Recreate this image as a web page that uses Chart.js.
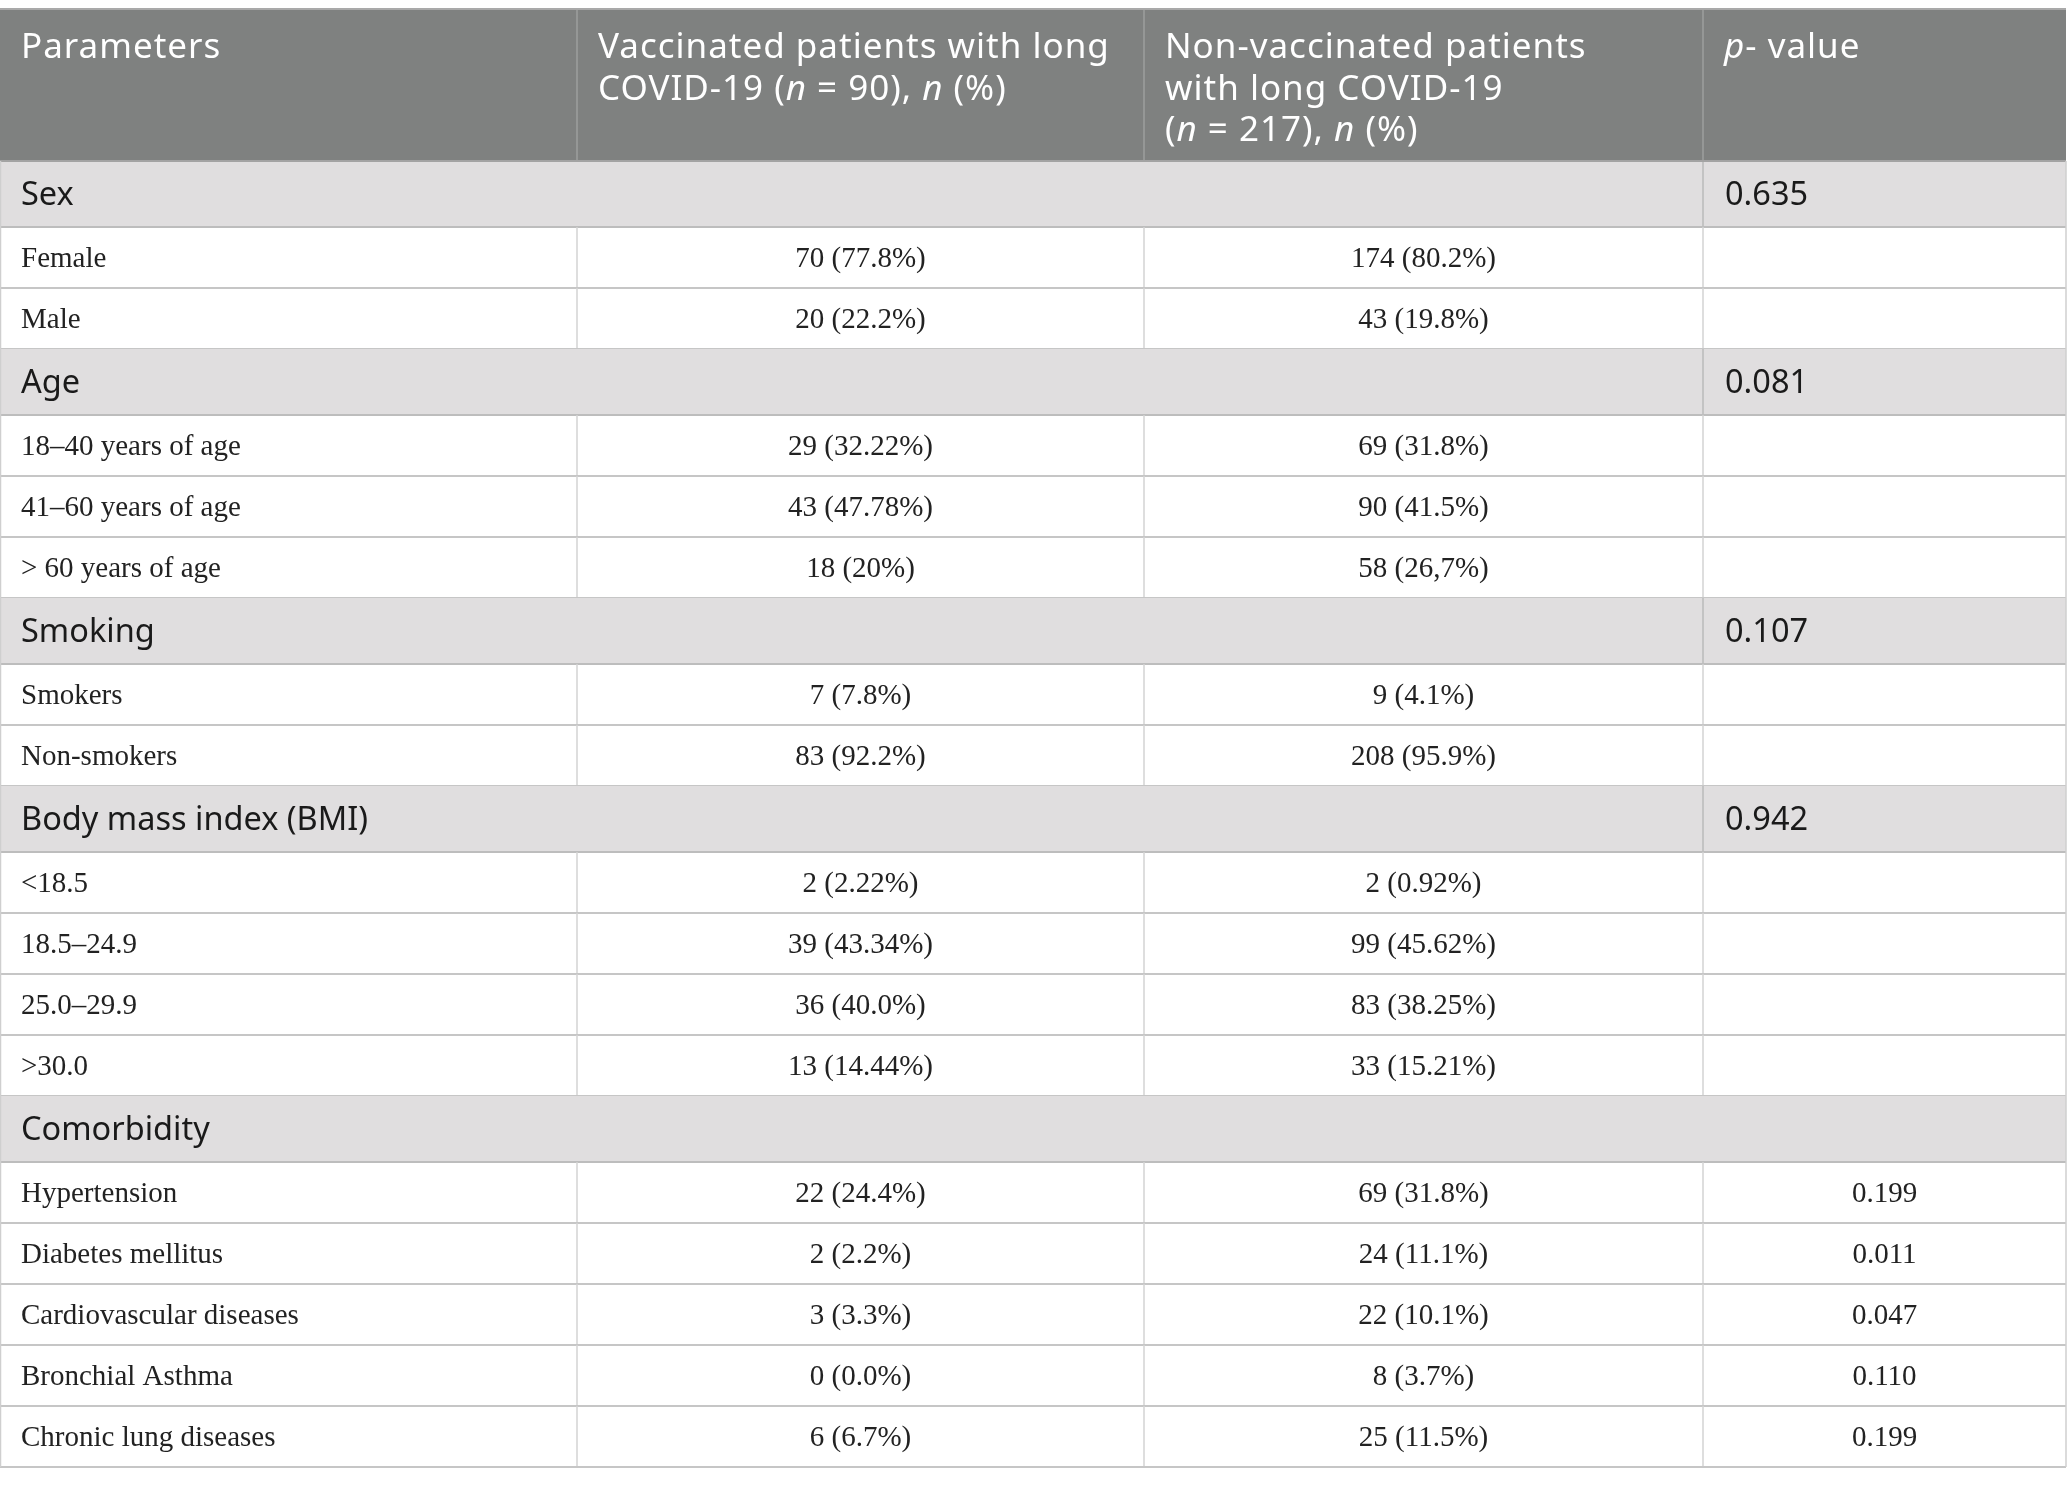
<!DOCTYPE html>
<html>
<head>
<meta charset="utf-8">
<script src="https://cdn.jsdelivr.net/npm/chart.js@4.4.1/dist/chart.umd.min.js"></script>
<style>
html, body { margin: 0; padding: 0; background: #fff; }
#wrap { width: 2067px; height: 1486px; position: relative; }
</style>
</head>
<body>
<div id="wrap"><canvas id="tableChart"></canvas></div>
<script>
// Table data
const headers = [
    ['Parameters'],
    ['Vaccinated patients with long', 'COVID-19 (_n_ = 90), _n_ (%)'],
    ['Non-vaccinated patients', 'with long COVID-19', '(_n_ = 217), _n_ (%)'],
    ['_p_- value']
];
const groups = ['Sex', 'Age', 'Smoking', 'Body mass index (BMI)', 'Comorbidity'];
const groupPValues = ['0.635', '0.081', '0.107', '0.942', ''];
const rowLabels = [
    'Female', 'Male',
    '18–40 years of age', '41–60 years of age', '> 60 years of age',
    'Smokers', 'Non-smokers',
    '<18.5', '18.5–24.9', '25.0–29.9', '>30.0',
    'Hypertension', 'Diabetes mellitus', 'Cardiovascular diseases', 'Bronchial Asthma', 'Chronic lung diseases'
];
const rowGroup = [0, 0, 1, 1, 1, 2, 2, 3, 3, 3, 3, 4, 4, 4, 4, 4];
const vaccinatedN = [70, 20, 29, 43, 18, 7, 83, 2, 39, 36, 13, 22, 2, 3, 0, 6];
const vaccinatedPct = ['77.8', '22.2', '32.22', '47.78', '20', '7.8', '92.2', '2.22', '43.34', '40.0', '14.44', '24.4', '2.2', '3.3', '0.0', '6.7'];
const nonVaccinatedN = [174, 43, 69, 90, 58, 9, 208, 2, 99, 83, 33, 69, 24, 22, 8, 25];
const nonVaccinatedPct = ['80.2', '19.8', '31.8', '41.5', '26,7', '4.1', '95.9', '0.92', '45.62', '38.25', '15.21', '31.8', '11.1', '10.1', '3.7', '11.5'];
const rowPValues = ['', '', '', '', '', '', '', '', '', '', '', '0.199', '0.011', '0.047', '0.110', '0.199'];

// Layout (in canvas units, mapped through the chart scales)
const W = 2067, H = 1486;
const colEdges = [0, 577, 1144, 1703, 2066];
const tableTop = 9, headerH = 152, groupH = 66, rowH = 61;
const padX = 21;

const headerFont = '35px "Noto Sans"';
const headerItalic = 'italic 35px "Noto Sans"';
const groupFont = '32.5px "Noto Sans"';
const cellFont = '29px "Liberation Serif"';

// build row list: group header followed by its rows
function buildRows() {
    const rows = [];
    groups.forEach((g, gi) => {
        rows.push({ type: 'group', label: g, p: groupPValues[gi] });
        rowLabels.forEach((label, i) => {
            if (rowGroup[i] !== gi) return;
            rows.push({
                type: 'data',
                label: label,
                vacc: `${vaccinatedN[i]} (${vaccinatedPct[i]}%)`,
                nonVacc: `${nonVaccinatedN[i]} (${nonVaccinatedPct[i]}%)`,
                p: rowPValues[i]
            });
        });
    });
    return rows;
}
const rows = buildRows();

// text with _italic_ runs
function drawRuns(ctx, str, x, y, align, font, italicFont) {
    const parts = str.split('_');
    let total = 0;
    parts.forEach((p, i) => {
        ctx.font = i % 2 ? italicFont : font;
        total += ctx.measureText(p).width;
    });
    let cx = align === 'center' ? x - total / 2 : x;
    ctx.textAlign = 'left';
    parts.forEach((p, i) => {
        ctx.font = i % 2 ? italicFont : font;
        ctx.fillText(p, cx, y);
        cx += ctx.measureText(p).width;
    });
}

const tablePlugin = {
    id: 'tablePlugin',
    afterDraw(chart) {
        const ctx = chart.ctx;
        const sx = chart.scales.x, sy = chart.scales.y;
        const px = v => sx.getPixelForValue(v);
        const py = v => sy.getPixelForValue(v);

        function hline(y, x0, x1, color, w) {
            ctx.strokeStyle = color;
            ctx.lineWidth = w;
            ctx.beginPath();
            ctx.moveTo(px(x0), py(y));
            ctx.lineTo(px(x1), py(y));
            ctx.stroke();
        }
        function vline(x, y0, y1, color, w) {
            ctx.strokeStyle = color;
            ctx.lineWidth = w;
            ctx.beginPath();
            ctx.moveTo(px(x), py(y0));
            ctx.lineTo(px(x), py(y1));
            ctx.stroke();
        }

        ctx.save();
        const left = colEdges[0], right = colEdges[colEdges.length - 1];

        // header
        ctx.fillStyle = '#7f8180';
        ctx.fillRect(px(left), py(tableTop), px(right) - px(left), py(tableTop + headerH) - py(tableTop));
        for (let c = 1; c < colEdges.length - 1; c++) {
            vline(colEdges[c], tableTop, tableTop + headerH, '#959796', 2);
        }
        hline(tableTop, left, right, '#a9a9a9', 2);

        ctx.fillStyle = '#ffffff';
        ctx.textBaseline = 'alphabetic';
        ctx.letterSpacing = '1px';
        headers.forEach((lines, c) => {
            lines.forEach((line, li) => {
                drawRuns(ctx, line, px(colEdges[c] + padX), py(tableTop + 49 + li * 41.5), 'left', headerFont, headerItalic);
            });
        });
        ctx.letterSpacing = '0px';

        // body
        let top = tableTop + headerH;
        rows.forEach(r => {
            const h = r.type === 'group' ? groupH : rowH;
            const bottom = top + h;
            if (r.type === 'group') {
                ctx.fillStyle = '#e0dedf';
                ctx.fillRect(px(left), py(top), px(right) - px(left), py(bottom) - py(top));
                if (r.p) vline(colEdges[3], top, bottom, '#c3c3c3', 2);
                ctx.fillStyle = '#1a1a1a';
                ctx.font = groupFont;
                ctx.textAlign = 'left';
                const base = py(top + h / 2 + 11);
                ctx.fillText(r.label, px(colEdges[0] + padX), base);
                if (r.p) ctx.fillText(r.p, px(colEdges[3] + padX + 1), base);
            } else {
                for (let c = 1; c < colEdges.length - 1; c++) {
                    vline(colEdges[c], top, bottom, '#d3d3d3', 1.5);
                }
                ctx.fillStyle = '#222222';
                ctx.font = cellFont;
                const base = py(top + h / 2 + 9.5);
                ctx.textAlign = 'left';
                ctx.fillText(r.label, px(colEdges[0] + padX), base);
                ctx.textAlign = 'center';
                ctx.fillText(r.vacc, px((colEdges[1] + colEdges[2]) / 2), base);
                ctx.fillText(r.nonVacc, px((colEdges[2] + colEdges[3]) / 2), base);
                if (r.p) ctx.fillText(r.p, px((colEdges[3] + colEdges[4]) / 2), base);
            }
            hline(bottom, left, right, r.type === 'group' ? '#bdbdbd' : '#c6c6c6', 2);
            top = bottom;
        });
        // header bottom line drawn last so it sits on top
        hline(tableTop + headerH, left, right, '#a3a3a3', 2);
        // outer side borders
        vline(left + 0.5, tableTop + headerH, top, '#cfcfcf', 1.5);
        vline(right, tableTop + headerH, top, '#cfcfcf', 1.5);
        ctx.restore();
    }
};

function createChart() {
    const ctx = document.getElementById('tableChart').getContext('2d');
    new Chart(ctx, {
        type: 'scatter',
        data: { datasets: [{ data: [], pointRadius: 0 }] },
        options: {
            responsive: true,
            maintainAspectRatio: false,
            animation: false,
            events: [],
            layout: { padding: 0 },
            scales: {
                x: { type: 'linear', min: 0, max: W, display: false },
                y: { type: 'linear', min: 0, max: H, reverse: true, display: false }
            },
            plugins: {
                legend: { display: false },
                tooltip: { enabled: false },
                title: { display: false }
            }
        },
        plugins: [tablePlugin]
    });
}
createChart()
</script>
</body>
</html>
